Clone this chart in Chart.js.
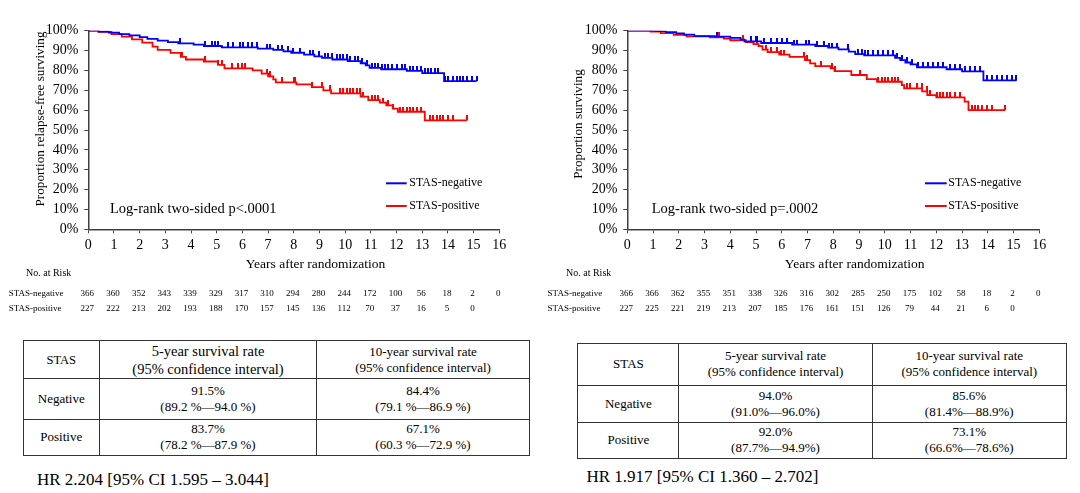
<!DOCTYPE html>
<html><head><meta charset="utf-8">
<script src="https://cdn.jsdelivr.net/npm/chart.js@4.4.1/dist/chart.umd.min.js"></script>
<style>
html,body{margin:0;padding:0;background:#fff;}
body{width:1080px;height:493px;position:relative;overflow:hidden;font-family:"Liberation Serif","Times New Roman",serif;color:#000;}
canvas{position:absolute;top:0;}
#c1{left:0;} #c2{left:540px;}
table{position:absolute;border-collapse:collapse;table-layout:fixed;}
td{border:1px solid #333;text-align:center;vertical-align:middle;padding:0;font-size:13px;line-height:16px;}
.hr{position:absolute;font-size:17px;line-height:20px;white-space:nowrap;}
</style></head>
<body>
<canvas id="c1" width="540" height="320" style="width:540px;height:320px"></canvas>
<canvas id="c2" width="540" height="320" style="width:540px;height:320px"></canvas>
<table id="t1"></table>
<table id="t2"></table>
<div class="hr" id="hr1"></div>
<div class="hr" id="hr2"></div>
<script>
// ---------- DATA ----------
const xTicks = [0,1,2,3,4,5,6,7,8,9,10,11,12,13,14,15,16];
const seriesNames = ['STAS-negative','STAS-positive'];

// Left: relapse-free survival
const leftNegT = [0,0.4,0.8,1.2,1.6,2.0,2.3,2.7,3.1,3.5,4.1,4.5,5.2,6.6,7.2,7.6,7.9,8.4,8.8,9.1,9.5,10.1,10.6,10.8,10.95,11.4,12.4,13.0,13.85,15.12];
const leftNegS = [100,99.6,99.0,98.3,97.6,96.8,95.9,95.0,94.2,93.6,93.0,92.3,91.6,91.0,90.3,89.6,88.9,88.0,87.1,86.3,85.5,84.7,83.6,82.5,81.3,80.6,79.8,78.6,74.6,74.6];
const leftPosT = [0,0.4,0.9,1.3,1.7,2.1,2.5,2.7,3.2,3.6,3.8,4.5,5.05,5.3,6.4,6.75,7.0,7.2,7.3,8.1,8.7,9.15,9.45,10.6,10.9,11.35,11.6,11.85,12.05,13.1,14.73];
const leftPosS = [100,99.4,98.3,97.0,95.6,94.0,92.0,90.3,88.8,86.8,85.5,84.5,82.8,81.0,80.0,78.4,77.0,75.5,74.0,73.0,71.6,70.0,68.4,66.8,65.0,63.8,62.4,60.8,59.2,54.8,54.8];
const leftNegCens = [3.57,4.54,4.80,4.93,5.06,5.45,5.65,5.91,6.04,6.23,6.36,6.55,6.94,7.07,7.40,7.53,7.79,7.98,8.24,8.63,8.76,9.0,9.21,9.34,9.47,9.67,9.8,9.93,10.06,10.19,10.38,10.51,10.64,10.84,11.03,11.16,11.29,11.42,11.55,11.68,11.81,12.0,12.2,12.33,12.52,12.65,12.78,12.97,13.1,13.23,13.36,13.49,13.62,13.9,14.01,14.21,14.34,14.47,14.6,14.73,14.92,15.12];
const leftPosCens = [3.64,4.54,5.06,5.19,5.58,5.84,5.97,6.1,6.94,7.07,7.53,8.0,8.05,8.7,9.08,9.41,9.8,9.93,10.06,10.19,10.32,10.45,10.58,10.71,11.03,11.16,11.29,11.48,11.68,11.87,12.13,12.26,12.39,12.52,12.65,12.78,12.97,13.3,13.43,13.56,13.68,13.81,14.01,14.21,14.73];
const leftRiskNeg = [366,360,352,343,339,329,317,310,294,280,244,172,100,56,18,2,0];
const leftRiskPos = [227,222,213,202,193,188,170,157,145,136,112,70,37,16,5,0];

// Right: overall survival
const rightNegT = [0,1.1,1.5,1.9,2.2,2.6,3.4,4.0,4.4,4.55,5.2,6.4,7.3,7.8,8.2,8.6,8.85,9.2,10.4,10.6,10.8,11.0,11.25,12.4,13.0,13.83,15.12];
const rightNegS = [100,99.8,99.3,98.7,98.0,97.3,97.0,96.4,95.5,94.6,93.8,93.0,92.3,91.5,90.6,89.5,88.2,87.6,86.3,85.2,84.0,83.0,81.6,80.6,79.5,75.0,75.0];
const rightPosT = [0,0.9,1.3,1.8,2.3,3.2,3.75,4.0,4.6,4.9,5.1,5.25,5.45,5.9,6.3,6.9,7.1,7.3,7.9,8.05,8.7,9.3,9.7,10.66,10.75,11.45,11.65,12.0,13.1,13.25,14.67];
const rightPosS = [100,99.6,98.8,97.9,97.1,96.6,96.0,95.2,94.2,93.2,92.2,90.5,89.2,88.0,86.8,85.2,83.5,82.2,81.0,79.6,77.7,75.6,74.3,72.6,71.0,69.4,67.6,66.4,64.3,60.0,60.0];
const rightNegCens = [3.5,4.79,4.99,5.05,5.31,5.57,5.83,6.02,6.21,6.47,6.6,6.93,7.06,7.38,7.64,7.83,7.96,8.13,8.58,8.97,9.1,9.23,9.36,9.56,9.75,9.94,10.14,10.33,10.46,10.66,10.85,11.04,11.3,11.49,11.69,11.88,12.08,12.27,12.53,12.73,12.92,13.11,13.31,13.5,13.69,13.96,14.15,14.35,14.54,14.73,14.93,15.1];
const rightPosCens = [3.56,4.51,5.05,5.37,5.57,5.83,5.96,6.09,6.86,6.99,7.51,7.94,8.07,9.04,9.75,9.88,10.0,10.14,10.27,10.4,10.53,10.85,10.98,11.24,11.43,11.63,11.76,12.01,12.14,12.27,12.4,12.53,12.73,12.92,13.37,13.5,13.63,13.76,13.96,14.15,14.67];
const rightRiskNeg = [366,366,362,355,351,338,326,316,302,285,250,175,102,58,18,2,0];
const rightRiskPos = [227,225,221,219,213,207,185,176,161,151,126,79,44,21,6,0];

// Tables
const tableHead = ['STAS','5-year survival rate','(95% confidence interval)','10-year survival rate','(95% confidence interval)'];
const leftRows = [
  ['Negative','91.5%','(89.2 %—94.0 %)','84.4%','(79.1 %—86.9 %)'],
  ['Positive','83.7%','(78.2 %—87.9 %)','67.1%','(60.3 %—72.9 %)']
];
const rightRows = [
  ['Negative','94.0%','(91.0%—96.0%)','85.6%','(81.4%—88.9%)'],
  ['Positive','92.0%','(87.7%—94.9%)','73.1%','(66.6%—78.6%)']
];
const leftHR = 'HR 2.204 [95% CI 1.595 – 3.044]';
const rightHR = 'HR 1.917 [95% CI 1.360 – 2.702]';

// ---------- HELPERS ----------
const FONT = '"Liberation Serif","Times New Roman",serif';
Chart.defaults.font.family = FONT;
Chart.defaults.color = '#000';

function pts(T, S) { return T.map((t, i) => ({x: t, y: S[i]})); }
function stepAt(T, S, t) { let v = S[0]; for (let i = 0; i < T.length; i++) { if (T[i] <= t) v = S[i]; } return v; }
function cens(T, S, C) { return C.map(t => ({x: t, y: stepAt(T, S, t)})); }
function tickImg(color) {
  const c = document.createElement('canvas'); c.width = 2; c.height = 10;
  const g = c.getContext('2d'); g.fillStyle = color; g.fillRect(0, 0, 2, 5); return c;
}

const annot = {
  id: 'annot',
  afterDraw(chart, args, o) {
    const ctx = chart.ctx, xs = chart.scales.x;
    ctx.save();
    ctx.fillStyle = '#000';
    ctx.textBaseline = 'middle';
    // x title
    ctx.textAlign = 'center';
    ctx.font = '13.5px ' + FONT;
    ctx.fillText(o.xTitle, o.xTitleX, o.xTitleY);
    // y title
    ctx.save(); ctx.translate(o.yTitleX, o.yTitleY); ctx.rotate(-Math.PI / 2);
    ctx.font = '13.2px ' + FONT; ctx.fillText(o.yTitle, 0, 0); ctx.restore();
    // log-rank
    ctx.textAlign = 'left';
    ctx.font = '14.5px ' + FONT;
    ctx.fillText(o.logRank, o.logX, o.logY);
    // legend
    ctx.font = '12px ' + FONT;
    chart.data.datasets.filter(d => d.isCurve).forEach((d, i) => {
      const y = o.legY[i];
      ctx.strokeStyle = d.borderColor; ctx.lineWidth = 2;
      ctx.beginPath(); ctx.moveTo(o.legX0, y); ctx.lineTo(o.legX1, y); ctx.stroke();
      ctx.fillText(d.label, o.legTextX, y);
    });
    // at-risk table
    ctx.font = '10px ' + FONT;
    ctx.fillText('No. at Risk', o.riskHeadX, o.riskHeadY);
    ctx.font = '9px ' + FONT;
    o.risk.forEach((row, r) => {
      const y = o.riskY[r];
      ctx.textAlign = 'left';
      ctx.fillText(row.label, o.riskLabelX, y);
      ctx.textAlign = 'center';
      row.values.forEach((v, i) => ctx.fillText(String(v), xs.getPixelForValue(xTicks[i]) - 1, y));
    });
    ctx.restore();
  }
};

function makeChart(id, cfg) {
  const axisCol = '#404040';
  new Chart(document.getElementById(id), {
    type: 'line',
    data: {
      datasets: [
        {label: seriesNames[0], isCurve: true, data: pts(cfg.negT, cfg.negS), borderColor: '#0000ff', borderWidth: 1.8, pointRadius: 0, stepped: 'before', fill: false},
        {label: seriesNames[1], isCurve: true, data: pts(cfg.posT, cfg.posS), borderColor: '#ff0000', borderWidth: 1.8, pointRadius: 0, stepped: 'before', fill: false},
        {label: 'neg censored', data: cens(cfg.negT, cfg.negS, cfg.negC), showLine: false, pointStyle: tickImg('#0000ff'), pointRadius: 3, borderColor: '#0000ff'},
        {label: 'pos censored', data: cens(cfg.posT, cfg.posS, cfg.posC), showLine: false, pointStyle: tickImg('#ff0000'), pointRadius: 3, borderColor: '#ff0000'}
      ]
    },
    options: {
      responsive: false, animation: false, devicePixelRatio: 1,
      layout: {padding: {left: 0, top: 30.7, right: 40.7, bottom: 0}},
      plugins: {legend: {display: false}, tooltip: {enabled: false}, annot: cfg.annot},
      scales: {
        x: {
          type: 'linear', min: 0, max: 16,
          afterBuildTicks: s => { s.ticks = xTicks.map(v => ({value: v})); },
          afterFit: s => { s.height = 90.7; },
          ticks: {font: {size: 14}, padding: 4, color: '#000', maxRotation: 0, autoSkip: false},
          grid: {display: true, drawOnChartArea: false, drawTicks: true, tickLength: 4, color: axisCol},
          border: {display: true, color: axisCol, width: 1.5}
        },
        y: {
          type: 'linear', min: 0, max: 100,
          afterFit: s => { s.width = cfg.yWidth; },
          ticks: {stepSize: 10, font: {size: 14}, padding: 6, color: '#000', callback: v => v + '%'},
          grid: {display: true, drawOnChartArea: false, drawTicks: true, tickLength: 4, color: axisCol},
          border: {display: true, color: axisCol, width: 1.5}
        }
      }
    },
    plugins: [annot]
  });
}

makeChart('c1', {
  negT: leftNegT, negS: leftNegS, posT: leftPosT, posS: leftPosS, negC: leftNegCens, posC: leftPosCens, yWidth: 88.3,
  annot: {
    xTitle: 'Years after randomization', xTitleX: 315.5, xTitleY: 264.4,
    yTitle: 'Proportion relapse-free surviving', yTitleX: 41, yTitleY: 119,
    logRank: 'Log-rank two-sided p<.0001', logX: 110, logY: 209,
    legX0: 386, legX1: 406.7, legTextX: 409.3, legY: [183.3, 206],
    riskHeadX: 26, riskHeadY: 273.8, riskLabelX: 8.7, riskY: [293.2, 308.4],
    risk: [{label: seriesNames[0], values: leftRiskNeg}, {label: seriesNames[1], values: leftRiskPos}]
  }
});
makeChart('c2', {
  negT: rightNegT, negS: rightNegS, posT: rightPosT, posS: rightPosS, negC: rightNegCens, posC: rightPosCens, yWidth: 87.3,
  annot: {
    xTitle: 'Years after randomization', xTitleX: 314.6, xTitleY: 264.4,
    yTitle: 'Proportion surviving', yTitleX: 39, yTitleY: 124,
    logRank: 'Log-rank two-sided p=.0002', logX: 111.7, logY: 209,
    legX0: 385, legX1: 406.7, legTextX: 408.3, legY: [183.3, 206],
    riskHeadX: 26, riskHeadY: 273.8, riskLabelX: 7.6, riskY: [293.2, 308.4],
    risk: [{label: seriesNames[0], values: rightRiskNeg}, {label: seriesNames[1], values: rightRiskPos}]
  }
});

// ---------- TABLES ----------
function buildTable(id, rows, g) {
  const t = document.getElementById(id);
  t.style.left = g.left + 'px'; t.style.top = g.top + 'px'; t.style.width = g.width + 'px';
  let h = '<colgroup>' + g.cols.map(w => '<col style="width:' + w + 'px">').join('') + '</colgroup>';
  h += '<tr style="height:' + g.rows[0] + 'px">' +
    '<td style="font-size:' + g.f0 + 'px">' + tableHead[0] + '</td>' +
    '<td style="font-size:' + g.f1 + 'px;line-height:' + g.l1 + 'px">' + tableHead[1] + '<br>' + tableHead[2] + '</td>' +
    '<td style="font-size:' + g.f2 + 'px;line-height:' + g.l2 + 'px">' + tableHead[3] + '<br>' + tableHead[4] + '</td></tr>';
  rows.forEach((r, i) => {
    h += '<tr style="height:' + g.rows[i + 1] + 'px"><td>' + r[0] + '</td><td>' + r[1] + '<br>' + r[2] + '</td><td>' + r[3] + '<br>' + r[4] + '</td></tr>';
  });
  t.innerHTML = h;
}
buildTable('t1', leftRows, {left: 22.5, top: 339.7, width: 506.5, cols: [76.5, 217, 213], rows: [38.8, 40.1, 36.7], f0: 12.5, f1: 14.5, l1: 18, f2: 13, l2: 15.6});
buildTable('t2', rightRows, {left: 577.4, top: 343.2, width: 488.6, cols: [101.1, 193.1, 194.4], rows: [41.5, 37, 36.3], f0: 13, f1: 13, l1: 16, f2: 13, l2: 16});

const hr1 = document.getElementById('hr1'); hr1.textContent = leftHR; hr1.style.left = '37px'; hr1.style.top = '469.5px';
const hr2 = document.getElementById('hr2'); hr2.textContent = rightHR; hr2.style.left = '586.5px'; hr2.style.top = '467px';
</script>
</body></html>
